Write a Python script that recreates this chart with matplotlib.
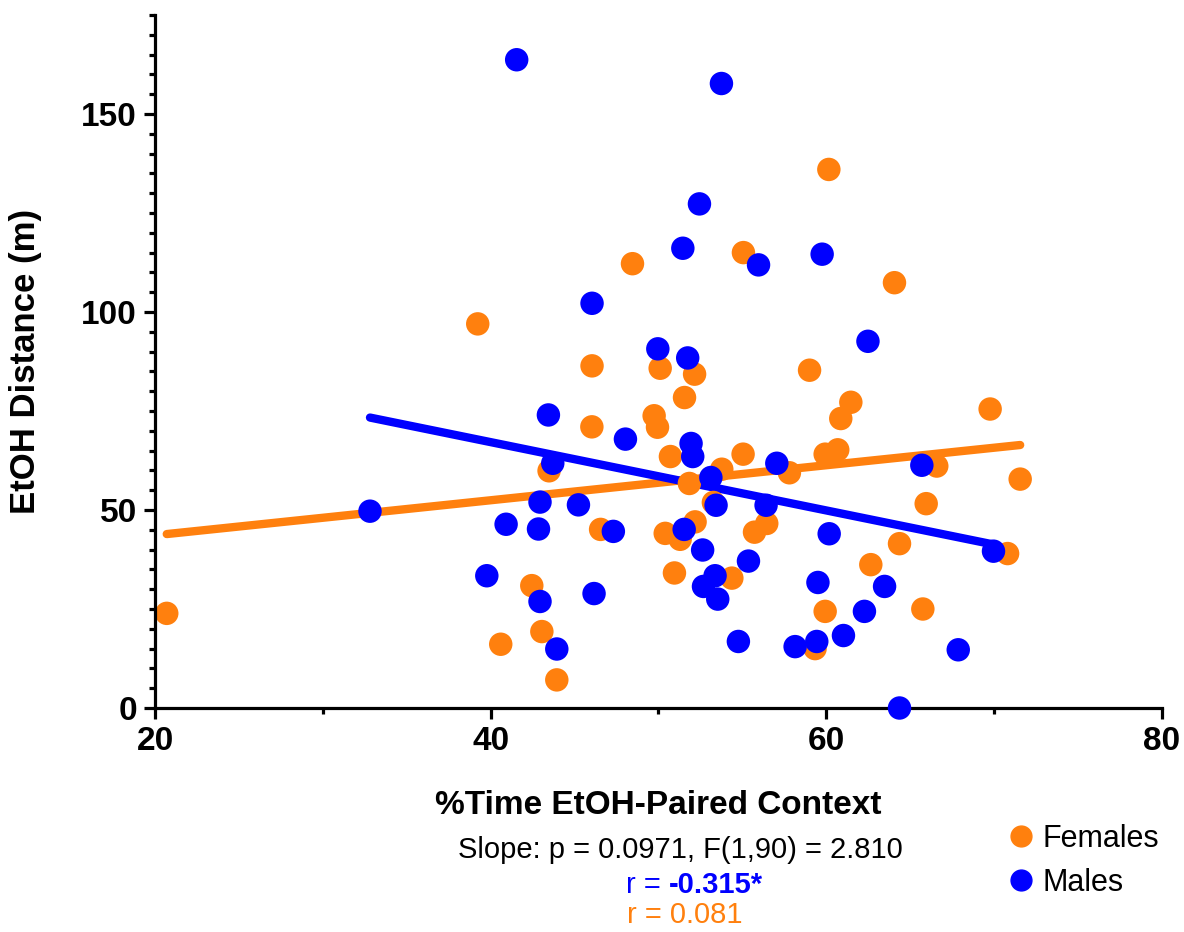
import matplotlib.pyplot as plt
from matplotlib.lines import Line2D
import numpy as np

# % time in EtOH-paired context vs EtOH distance (m)
fem_x = [20.70, 39.23, 40.60, 42.45, 43.05, 43.48, 43.94, 46.03, 46.04, 46.55,
         48.45, 49.74, 49.94, 50.10, 50.40, 50.71, 50.95, 51.29, 51.55, 51.84,
         52.15, 52.18, 53.27, 53.77, 54.37, 55.04, 55.06, 55.72, 56.45, 57.80,
         59.00, 59.33, 59.93, 59.93, 60.15, 60.68, 60.86, 61.46, 62.65, 64.06,
         64.36, 65.75, 65.95, 66.58, 69.76, 70.80, 71.55]
fem_y = [23.9, 97.0, 16.1, 30.9, 19.3, 59.9, 7.1, 71.0, 86.4, 45.1,
         112.2, 73.8, 70.9, 85.8, 44.1, 63.5, 34.1, 42.6, 78.4, 56.7,
         84.3, 47.0, 51.9, 60.3, 32.8, 64.1, 115.0, 44.4, 46.6, 59.4,
         85.3, 15.0, 24.4, 64.1, 136.0, 65.2, 73.1, 77.2, 36.2, 107.4,
         41.5, 25.0, 51.6, 61.1, 75.5, 39.0, 57.8]

male_x = [32.81, 39.77, 40.92, 41.55, 42.85, 42.94, 42.94, 43.44, 43.70, 43.94,
          45.23, 46.04, 46.16, 47.31, 48.03, 49.96, 51.45, 51.53, 51.74, 51.94,
          52.04, 52.44, 52.63, 52.68, 53.12, 53.37, 53.43, 53.53, 53.75, 54.76,
          55.36, 55.96, 56.41, 57.05, 58.14, 59.43, 59.50, 59.75, 60.17, 61.02,
          62.27, 62.48, 63.47, 64.36, 65.69, 67.86, 69.96]
male_y = [49.7, 33.4, 46.4, 163.7, 45.2, 52.0, 26.9, 74.0, 61.8, 14.9,
          51.3, 102.2, 28.9, 44.6, 67.9, 90.7, 116.1, 45.1, 88.4, 66.8,
          63.5, 127.3, 39.9, 30.7, 58.2, 33.4, 51.2, 27.5, 157.7, 16.8,
          37.1, 111.9, 51.2, 61.8, 15.5, 16.8, 31.7, 114.6, 44.0, 18.3,
          24.4, 92.6, 30.7, 0.0, 61.3, 14.7, 39.6]

ORANGE = '#FF800E'
BLUE = '#0000FF'

plt.rcParams['font.family'] = ['Liberation Sans', 'DejaVu Sans']

fig = plt.figure(figsize=(11.84, 9.32), dpi=100)
ax = fig.add_axes([155/1184, 1-708/932, (1162-155)/1184, (708-15)/932])

# linear fits drawn over each group's x range
for xs, ys, c in [(fem_x, fem_y, ORANGE), (male_x, male_y, BLUE)]:
    xs = np.array(xs); ys = np.array(ys)
    k, b = np.polyfit(xs, ys, 1)
    lx = np.array([xs.min(), xs.max()])
    ax.plot(lx, k*lx + b, color=c, lw=6, solid_capstyle='round', zorder=1)

ax.scatter(fem_x, fem_y, s=285, color=ORANGE, edgecolors='none', zorder=2, clip_on=False)
ax.scatter(male_x, male_y, s=285, color=BLUE, edgecolors='none', zorder=3, clip_on=False)

ax.set_xlim(20, 80)
ax.set_ylim(0, 175)
ax.set_xticks([20, 40, 60, 80])
ax.set_xticks([30, 50, 70], minor=True)
ax.set_yticks([0, 50, 100, 150])
ax.set_yticks(np.arange(0, 176, 5), minor=True)

for s in ['top', 'right']:
    ax.spines[s].set_visible(False)
for s in ['left', 'bottom']:
    ax.spines[s].set_linewidth(2.3)

ax.tick_params(which='major', length=8, width=2.3, labelsize=24, pad=5)
ax.tick_params(which='minor', length=4.5, width=2.3)
for lab in ax.get_xticklabels() + ax.get_yticklabels():
    lab.set_fontweight('bold')

ax.set_xlabel('%Time EtOH-Paired Context', fontsize=24, fontweight='bold', labelpad=24)
ax.set_ylabel('EtOH Distance (m)', fontsize=25, fontweight='bold', labelpad=28)

fig.text(680/1184, 1-850/932, 'Slope: p = 0.0971, F(1,90) = 2.810',
         fontsize=21, ha='center', va='center')
fig.text(669/1184, 1-885/932, 'r = ', fontsize=21, color=BLUE, ha='right', va='center')
fig.text(669/1184, 1-885/932, '-0.315*', fontsize=21, color=BLUE, fontweight='bold',
         ha='left', va='center')
fig.text(685/1184, 1-915/932, 'r = 0.081', fontsize=21, color=ORANGE, ha='center', va='center')

handles = [Line2D([], [], marker='o', ls='none', color=ORANGE, ms=15),
           Line2D([], [], marker='o', ls='none', color=BLUE, ms=15)]
fig.legend(handles, ['Females', 'Males'], loc='center left',
           bbox_to_anchor=(975/1184, 1-861/932), frameon=False, fontsize=22,
           handletextpad=0.1, labelspacing=0.45, handlelength=1.2)

fig.savefig('out.png', dpi=100)
